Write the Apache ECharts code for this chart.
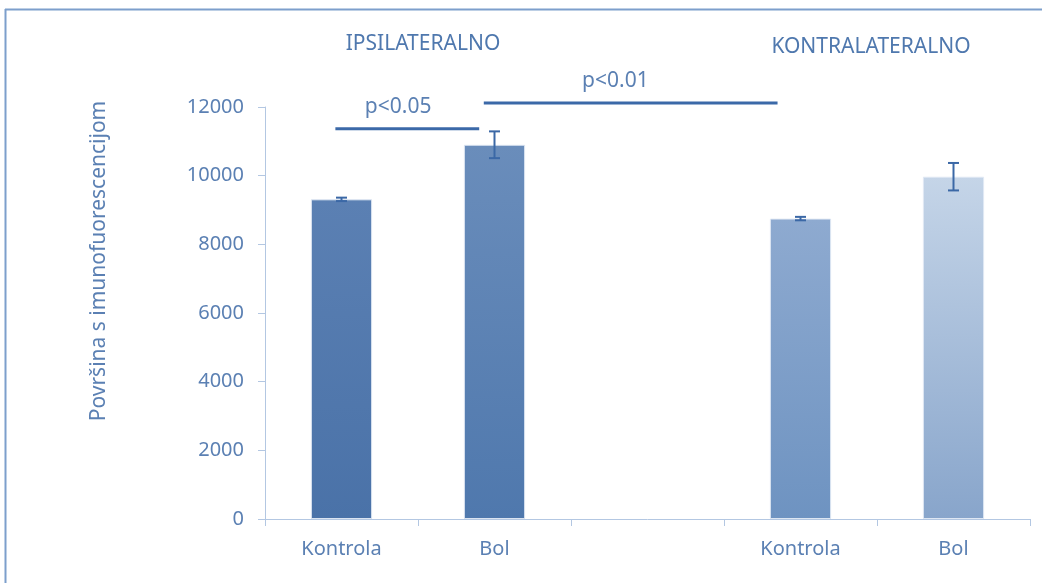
<!DOCTYPE html>
<html>
<head>
<meta charset="utf-8">
<script src="https://cdn.jsdelivr.net/npm/echarts@6/dist/echarts.min.js"></script>
<style>html,body{margin:0;padding:0;background:#fff;}#c{width:1042px;height:583px;}</style>
</head>
<body>
<div id="c"></div>
<script>
var categories = ['Kontrola', 'Bol', '', 'Kontrola', 'Bol'];
var values = [9310, 10900, null, 8750, 9970];
var errors = [50, 390, null, 50, 400];
var yTicks = [0, 2000, 4000, 6000, 8000, 10000, 12000];
var groupTitles = ['IPSILATERALNO', 'KONTRALATERALNO'];
var sigLabels = ['p<0.05', 'p<0.01'];
var sigFrom = [-0.04, 0.93];
var sigTo = [0.90, 2.85];
var sigY = [11370, 12120];
var sigLabelPos = [0.37, 1.79];

var barColors = [
  ['#5b80b3', '#4a72a8'],
  ['#6a8dbb', '#4f78ad'],
  null,
  ['#8eaad0', '#6e93c1'],
  ['#c5d5e8', '#88a5cb']
];
var FONT = 'Noto Sans';
var TXT = '#5b80b3';

var barData = values.map(function (v, i) {
  if (v == null) return null;
  return {
    value: v,
    itemStyle: {
      color: new echarts.graphic.LinearGradient(0, 0, 0, 1, [
        {offset: 0, color: barColors[i][0]},
        {offset: 1, color: barColors[i][1]}
      ]),
      borderColor: 'rgba(225,233,244,0.9)',
      borderWidth: 1
    }
  };
});

var errData = [];
values.forEach(function (v, i) {
  if (v != null) errData.push([i, v - errors[i], v + errors[i]]);
});

var sigData = sigLabels.map(function (l, i) {
  return [sigFrom[i], sigTo[i], sigY[i], sigLabelPos[i], i];
});

var chart = echarts.init(document.getElementById('c'), null, {renderer: 'canvas'});
chart.setOption({
  backgroundColor: '#fff',
  animation: false,
  title: [
    {text: groupTitles[0], left: 418, top: 29, textAlign: 'center',
      textStyle: {fontFamily: FONT, fontSize: 21, fontWeight: 'normal', color: '#4f78ae'}},
    {text: groupTitles[1], left: 866, top: 32, textAlign: 'center',
      textStyle: {fontFamily: FONT, fontSize: 21, fontWeight: 'normal', color: '#4f78ae'}}
  ],
  graphic: [
    {type: 'line', shape: {x1: 5, y1: 9.5, x2: 1042, y2: 9.5}, style: {stroke: '#7d9fcc', lineWidth: 2}},
    {type: 'line', shape: {x1: 5.5, y1: 9, x2: 5.5, y2: 583}, style: {stroke: '#7d9fcc', lineWidth: 2}}
  ],
  grid: {left: 265, right: 12, top: 107, bottom: 64, containLabel: false},
  xAxis: {
    type: 'category',
    data: categories,
    axisLine: {lineStyle: {color: '#b3c7e2', width: 1}},
    axisTick: {show: true, length: 7, lineStyle: {color: '#b3c7e2'}},
    axisLabel: {fontFamily: FONT, fontSize: 20, color: TXT, margin: 20}
  },
  yAxis: {
    type: 'value',
    min: 0, max: 12000, interval: 2000,
    name: 'Površina s imunofuorescencijom',
    nameLocation: 'middle',
    nameGap: 155,
    nameTextStyle: {fontFamily: FONT, fontSize: 21, color: TXT, padding: [0, 0, 0, 104]},
    axisLine: {show: true, lineStyle: {color: '#b3c7e2', width: 1}},
    axisTick: {show: true, length: 7, lineStyle: {color: '#b3c7e2'}},
    splitLine: {show: false},
    axisLabel: {fontFamily: FONT, fontSize: 20, color: TXT, margin: 21,
      formatter: function (v) { return yTicks.indexOf(v) >= 0 ? String(v) : ''; }}
  },
  series: [
    {
      type: 'bar',
      data: barData,
      barWidth: '40%',
      z: 2
    },
    {
      type: 'custom',
      data: errData,
      z: 5,
      renderItem: function (params, api) {
        var x = api.value(0);
        var lo = api.coord([x, api.value(1)]);
        var hi = api.coord([x, api.value(2)]);
        var hw = 5.5;
        var st = {stroke: '#3b68a6', lineWidth: 2};
        return {
          type: 'group',
          children: [
            {type: 'line', shape: {x1: lo[0], y1: lo[1], x2: hi[0], y2: hi[1]}, style: st},
            {type: 'line', shape: {x1: lo[0] - hw, y1: lo[1], x2: lo[0] + hw, y2: lo[1]}, style: st},
            {type: 'line', shape: {x1: hi[0] - hw, y1: hi[1], x2: hi[0] + hw, y2: hi[1]}, style: st}
          ]
        };
      }
    },
    {
      type: 'custom',
      data: sigData,
      clip: false,
      z: 6,
      renderItem: function (params, api) {
        var base = api.coord([0, api.value(2)]);
        var bw = api.size([1, 0])[0];
        var x1 = base[0] + api.value(0) * bw;
        var x2 = base[0] + api.value(1) * bw;
        var lx = base[0] + api.value(3) * bw;
        var y = base[1];
        return {
          type: 'group',
          children: [
            {type: 'line', shape: {x1: x1, y1: y, x2: x2, y2: y}, style: {stroke: '#3b69a8', lineWidth: 3}},
            {type: 'text', x: lx, y: y - 22, style: {
              text: sigLabels[api.value(4)], fill: TXT, font: '21px "' + FONT + '"',
              textAlign: 'center', textVerticalAlign: 'middle'}}
          ]
        };
      }
    }
  ]
});
</script>
</body>
</html>
